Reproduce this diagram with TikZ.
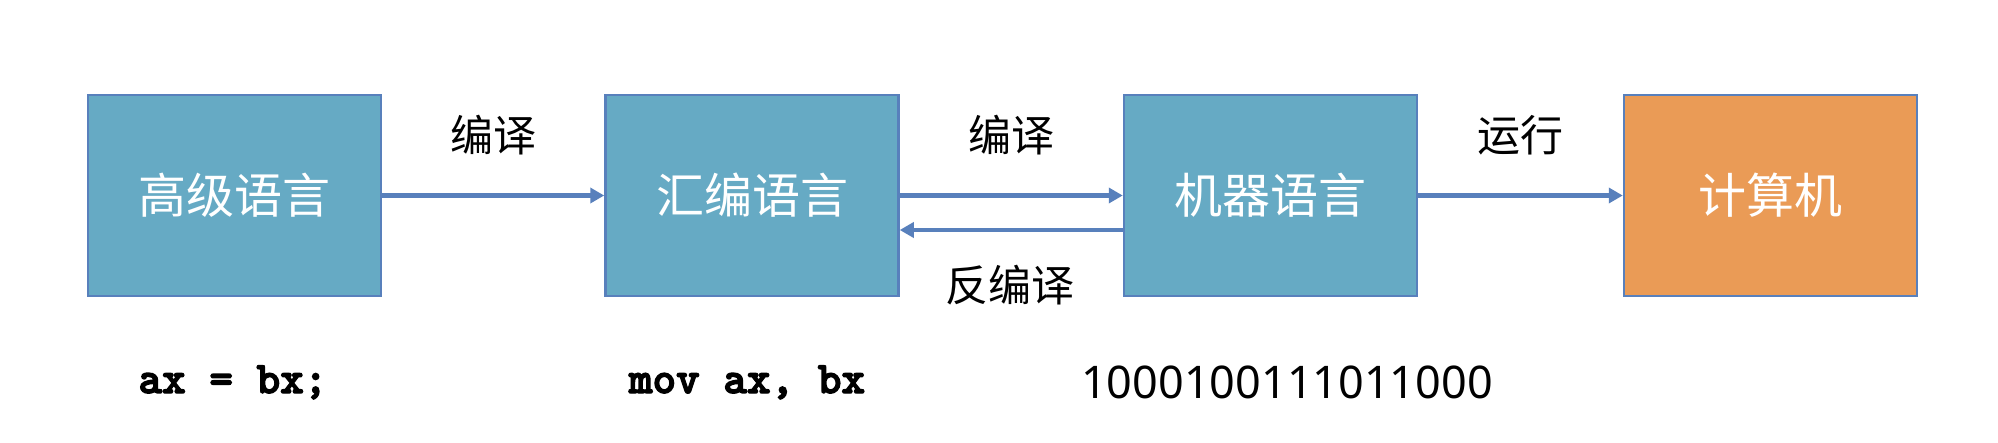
\documentclass[tikz,border=0pt]{standalone}
\usepackage{fontspec}
\usetikzlibrary{arrows.meta}
\newfontfamily\cjkfont{Noto Sans CJK SC}
\newfontfamily\codefont{lmmonolt10-bold.otf}[FakeBold=3]
\newfontfamily\binfont{Noto Sans}
\definecolor{boxblue}{RGB}{102,170,196}
\definecolor{boxorange}{RGB}{234,155,86}
\definecolor{edgeblue}{RGB}{88,128,188}
\tikzset{
  stage/.style={draw=edgeblue, line width=2.5pt, fill=boxblue,
    minimum width=293pt, minimum height=201pt, inner sep=0pt,
    text=white, font=\cjkfont\fontsize{48}{56}\selectfont},
  flow/.style={draw=edgeblue, line width=4.5pt,
    -{Triangle[length=14pt,width=15pt]}},
  steplabel/.style={font=\cjkfont\fontsize{43}{50}\selectfont, text=black},
  codetext/.style={anchor=base, font=\codefont\fontsize{45}{52}\selectfont},
  bintext/.style={anchor=base, font=\binfont\fontsize{45}{54}\selectfont}
}
\begin{document}
\begin{tikzpicture}[x=1pt,y=-1pt]
\useasboundingbox[fill=white] (0,0) rectangle (1998,442);
\node[stage] (hl) at (234.5,195.5) {高级语言};
\node[stage] (asm) at (752,195.5) {汇编语言};
\node[stage] (mc) at (1270.5,195.5) {机器语言};
\node[stage, fill=boxorange] (pc) at (1770.5,195.5) {计算机};
\draw[flow] (hl.east) -- (asm.west);
\draw[flow] (asm.east) -- (mc.west);
\draw[flow] ([yshift=-34.5pt]mc.west) -- ([yshift=-34.5pt]asm.east);
\draw[flow] (mc.east) -- (pc.west);
\node[steplabel] (l1) at (493.5,135) {编译};
\node[steplabel] (l2) at (1011.5,135) {编译};
\node[steplabel] (l3) at (1520,135) {运行};
\node[steplabel] (l4) at (1010,285) {反编译};
\node[codetext] (c1) at (233,393) {ax = bx;};
\node[codetext] (c2) at (747,393) {mov ax, bx};
\node[bintext] (c3) at (1287,398) {1000100111011000};
\end{tikzpicture}
\end{document}
